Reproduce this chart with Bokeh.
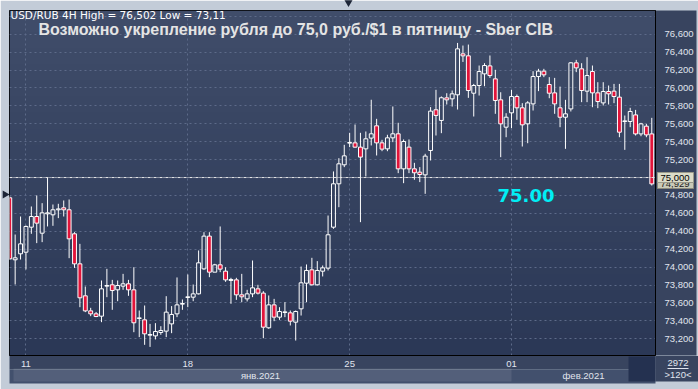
import numpy as np
from bokeh.plotting import figure
from bokeh.models import (ColumnDataSource, LinearAxis, FixedTicker, Range1d, Label,
                          Span, Grid, CustomJSTickFormatter)
from bokeh.core.properties import value
from bokeh.embed import file_html
from bokeh.resources import INLINE

# ---------------- data (USD/RUB, 4H candles) ----------------
opens = [74.774, 74.082, 74.149, 74.167, 74.446, 74.565, 74.379, 74.595, 74.584, 74.640,
         74.662, 74.640, 74.372, 74.037, 73.680, 73.512, 73.479, 73.453, 73.788, 73.803,
         73.747, 73.788, 73.814, 73.747, 73.427, 73.412, 73.241, 73.233, 73.271, 73.286,
         73.367, 73.479, 73.587, 73.661, 73.665, 73.702, 73.981, 74.346, 73.944, 74.026,
         73.955, 73.851, 73.858, 73.691, 73.646, 73.702, 73.758, 73.710, 73.323, 73.579,
         73.442, 73.494, 73.490, 73.386, 73.535, 73.821, 73.970, 73.803, 73.955, 73.989,
         74.446, 74.930, 75.142, 75.384, 75.387, 75.339, 75.320, 75.440, 75.577, 75.387,
         75.320, 75.443, 75.488, 75.097, 75.339, 75.097, 75.060, 75.030, 75.302, 75.756,
         75.637, 75.889, 75.878, 75.923, 76.380, 76.358, 75.941, 76.027, 76.157, 76.246,
         76.101, 75.867, 75.562, 75.722, 75.904, 75.778, 75.599, 75.822, 76.127, 76.187,
         76.038, 75.945, 75.778, 75.673, 75.766, 76.280, 76.213, 75.964, 76.183, 75.945,
         75.833, 75.960, 75.964, 75.897, 75.625, 75.625, 75.699, 75.487, 75.573, 75.487]
highs = [74.790, 74.364, 74.565, 74.465, 74.677, 74.800, 74.714, 74.997, 74.699, 74.707,
         74.744, 74.755, 74.390, 74.260, 73.784, 73.546, 73.500, 73.851, 73.981, 73.858,
         73.851, 73.925, 73.858, 73.999, 73.516, 73.572, 73.367, 73.375, 73.341, 73.676,
         73.565, 73.885, 73.639, 73.918, 73.806, 74.186, 74.390, 74.390, 74.037, 74.454,
         73.999, 73.881, 73.881, 73.925, 73.747, 74.074, 73.803, 73.732, 73.684, 73.646,
         73.553, 73.609, 73.516, 73.516, 74.007, 74.030, 74.104, 74.067, 74.018, 74.576,
         75.068, 75.216, 75.365, 75.499, 75.592, 75.499, 75.514, 75.868, 75.655, 75.421,
         75.477, 75.793, 75.611, 75.425, 75.425, 75.164, 75.116, 75.265, 75.786, 75.979,
         75.905, 75.941, 75.971, 76.502, 76.473, 76.484, 76.045, 76.250, 76.276, 76.362,
         76.202, 75.952, 75.718, 75.978, 75.926, 75.830, 75.852, 76.187, 76.213, 76.213,
         76.120, 76.112, 76.015, 75.867, 76.287, 76.313, 76.276, 76.343, 76.250, 76.064,
         76.064, 76.027, 76.045, 76.045, 75.692, 75.778, 75.755, 75.610, 75.599, 75.666]
lows = [74.080, 73.806, 74.085, 73.974, 74.372, 74.268, 74.279, 74.454, 74.461, 74.547,
        74.565, 74.100, 73.992, 73.553, 73.498, 73.453, 73.442, 73.386, 73.665, 73.524,
        73.620, 73.747, 73.680, 73.274, 73.219, 73.133, 73.110, 73.193, 73.245, 73.219,
        73.263, 73.442, 73.524, 73.553, 73.620, 73.695, 73.970, 73.888, 73.944, 73.944,
        73.836, 73.591, 73.635, 73.609, 73.617, 73.665, 73.695, 73.207, 73.312, 73.397,
        73.412, 73.442, 73.349, 73.181, 73.460, 73.609, 73.795, 73.795, 73.896, 73.963,
        74.428, 74.669, 75.116, 75.339, 75.332, 74.502, 75.012, 75.358, 75.246, 75.294,
        75.294, 75.395, 75.049, 74.937, 75.049, 74.975, 74.949, 74.818, 75.190, 75.469,
        75.495, 75.815, 75.792, 75.759, 76.290, 75.889, 75.681, 75.915, 76.019, 76.112,
        75.711, 75.227, 75.450, 75.551, 75.644, 75.346, 75.383, 75.748, 75.964, 76.120,
        75.885, 75.711, 75.562, 75.320, 75.737, 76.176, 75.841, 75.841, 75.785, 75.774,
        75.804, 75.815, 75.830, 75.450, 75.309, 75.562, 75.469, 75.461, 75.450, 74.911]
closes = [74.093, 74.104, 74.260, 74.454, 74.565, 74.491, 74.606, 74.606, 74.640, 74.650,
          74.640, 74.316, 74.037, 73.658, 73.512, 73.479, 73.449, 73.758, 73.795, 73.739,
          73.795, 73.814, 73.747, 73.379, 73.434, 73.256, 73.248, 73.282, 73.293, 73.498,
          73.472, 73.579, 73.594, 73.669, 73.702, 74.048, 74.346, 73.944, 74.026, 73.978,
          73.858, 73.862, 73.691, 73.669, 73.702, 73.769, 73.710, 73.330, 73.579, 73.442,
          73.505, 73.501, 73.397, 73.505, 73.825, 73.963, 73.803, 73.963, 73.992, 74.361,
          74.930, 75.153, 75.242, 75.391, 75.339, 75.228, 75.432, 75.488, 75.387, 75.317,
          75.443, 75.488, 75.097, 75.402, 75.097, 75.053, 75.034, 75.239, 75.741, 75.693,
          75.890, 75.867, 75.934, 76.436, 76.358, 75.971, 76.027, 76.183, 76.250, 76.138,
          75.860, 75.599, 75.673, 75.904, 75.778, 75.588, 75.833, 76.127, 76.187, 76.146,
          75.941, 75.822, 75.673, 75.711, 76.280, 76.224, 75.971, 76.138, 75.945, 75.848,
          75.960, 75.934, 75.904, 75.506, 75.632, 75.737, 75.487, 75.599, 75.476, 74.929]

week_start_idx = [3, 33, 63, 93]
week_labels = ["11", "18", "25", "01"]
month_start_idx = 93
month_labels = ["янв.2021", "фев.2021"]
y_ticks = [73.2, 73.4, 73.6, 73.8, 74.0, 74.2, 74.4, 74.6, 74.8, 75.0,
           75.2, 75.4, 75.6, 75.8, 76.0, 76.2, 76.4, 76.6]
y_tick_labels = ["73,200", "73,400", "73,600", "73,800", "74,000", "74,200",
                 "74,400", "74,600", "74,800", "75,000", "75,200", "75,400",
                 "75,600", "75,800", "76,000", "76,200", "76,400", "76,600"]
grid_levels = y_ticks + [76.8]
level_line = 75.0
level_text = "75.00"
level_box_text = "75,000"
header_text = "USD/RUB 4H High = 76,502 Low = 73,11"
title_text = "Возможно укрепление рубля до 75,0 руб./$1 в пятницу - Sber CIB"
bars_text = "2972"
scale_text = ">120<"

# ---------------- styling ----------------
BG_TOP = (64, 77, 106)
BG_BOT = (43, 56, 86)
BORDER = "#c3ccd8"
AXIS_BG = "#38445f"
LABEL_C = "#e0e4ee"
BEAR = "#e2143a"

n = len(opens)
idx = np.arange(n)
o = np.array(opens); c = np.array(closes); h = np.array(highs); l = np.array(lows)
top = np.maximum(o, c); bot = np.minimum(o, c)
bull = c >= o
last_box_text = f"{closes[-1]:.3f}".replace(".", ",")

W, H = 698, 389
FL, FT, FR, FB = 9, 10, 43, 34   # frame borders (px)
PXX = 5.395                      # px per bar
x0 = -0.05
x1 = x0 + (W - FL - FR) / PXX
y0, y1 = 73.014, 76.864
PXY = (H - FT - FB) / (y1 - y0)

def px2x(X):   # canvas px -> data x (layout helper for decorations)
    return x0 + (X - FL) / PXX

def px2y(Y):   # canvas px -> data y (layout helper for decorations)
    return y0 + ((H - FB) - Y) / PXY

p = figure(width=W, height=H, x_range=Range1d(x0, x1), y_range=Range1d(y0, y1),
           output_backend="svg", toolbar_location=None,
           x_axis_location=None, y_axis_location=None,
           min_border_left=FL, min_border_top=FT, min_border_right=FR, min_border_bottom=FB,
           border_fill_color=BORDER, background_fill_color="#36425f",
           outline_line_color="black", outline_line_width=1)
p.grid.visible = False

# vertical gradient background
NG = 64
t = np.linspace(0, 1, NG)[:, None]
rgb = (np.array(BG_BOT)[None, :] * (1 - t) + np.array(BG_TOP)[None, :] * t).astype(np.uint32)
img = (255 << 24) | (rgb[:, 2] << 16) | (rgb[:, 1] << 8) | rgb[:, 0]
img = img.reshape(NG, 1).astype(np.uint32)
p.image_rgba(image=[img], x=x0, y=y0, dw=x1 - x0, dh=y1 - y0, level="image")

# grids
p.add_layout(Grid(dimension=1, ticker=FixedTicker(ticks=grid_levels),
                  grid_line_color="#5d6a89", grid_line_dash="2 3", grid_line_width=1))
p.add_layout(Grid(dimension=0, ticker=FixedTicker(ticks=week_start_idx),
                  grid_line_color="#5d6a89", grid_line_dash="2 3", grid_line_width=1))

# level line
p.add_layout(Span(location=level_line, dimension="width", line_color="#e8e8e8",
                  line_dash="3 1 1 1", line_width=1))

# candles
src = ColumnDataSource(dict(x=idx, h=h, l=l, top=top, bot=bot))
p.segment(x0="x", y0="h", x1="x", y1="top", source=src, line_color="white", line_width=1)
p.segment(x0="x", y0="bot", x1="x", y1="l", source=src, line_color="white", line_width=1)
bull_src = ColumnDataSource(dict(x=idx[bull], top=top[bull], bot=bot[bull]))
bear_src = ColumnDataSource(dict(x=idx[~bull], top=top[~bull], bot=bot[~bull]))
p.vbar(x="x", top="top", bottom="bot", width=0.72, source=bull_src,
       fill_alpha=0, line_color="white", line_width=1)
p.vbar(x="x", top="top", bottom="bot", width=0.72, source=bear_src,
       fill_color=BEAR, line_color="white", line_width=1)

# right price axis
ry = LinearAxis(ticker=FixedTicker(ticks=y_ticks),
                major_label_overrides=dict(zip(y_ticks, y_tick_labels)),
                major_tick_line_color=None, minor_tick_line_color=None,
                major_label_standoff=3, axis_line_color="black",
                major_label_text_font="Liberation Sans", major_label_text_font_size="9.5px",
                major_label_text_color=LABEL_C)
ry.background_fill_color = AXIS_BG
p.add_layout(ry, "right")

# bottom day axis
bx = LinearAxis(ticker=FixedTicker(ticks=week_start_idx),
                major_label_overrides=dict(zip(week_start_idx, week_labels)),
                major_tick_line_color=None, minor_tick_line_color=None,
                major_tick_out=0, major_tick_in=0,
                major_label_standoff=5, axis_line_color="black",
                major_label_text_font="Liberation Sans", major_label_text_font_size="9.5px",
                major_label_text_color=LABEL_C)
bx.background_fill_color = AXIS_BG
p.add_layout(bx, "below")

mid_jan = (x0 + month_start_idx) / 2
mid_feb = (month_start_idx + x1) / 2
mx = LinearAxis(ticker=FixedTicker(ticks=[mid_jan, mid_feb]),
                formatter=CustomJSTickFormatter(args=dict(b=month_start_idx, a=month_labels[0], f=month_labels[1]),
                                                code="return tick < b ? a : f"),
                major_tick_line_color=None, minor_tick_line_color=None,
                major_tick_out=0, major_tick_in=0,
                major_label_standoff=0, axis_line_color=None,
                major_label_text_font="Liberation Sans", major_label_text_font_size="9.5px",
                major_label_text_color=LABEL_C)
mx.background_fill_color = "#42506d"
p.add_layout(mx, "below")

# texts inside the frame
def screen_label(X, Y, text, **kw):
    lab = Label(x=X - FL, y=(H - FB) - Y, x_units="screen", y_units="screen", text=text, **kw)
    p.add_layout(lab)
    return lab

screen_label(10, 14.5, header_text, text_font="DejaVu Sans", text_font_size="10.5px",
             text_color="white", text_baseline="middle")
screen_label(38, 29, title_text, text_font="Liberation Sans", text_font_size="16px",
             text_font_style="bold", text_color="#e4e4e4", text_baseline="middle")
screen_label(497, 195, level_text, text_font="DejaVu Sans", text_font_size="18px",
             text_font_style="bold", text_color="#00eef5", text_baseline="middle")

# ---- decorations outside the frame (overlay level) ----
p.quad(left=[px2x(13), px2x(628), px2x(655)], right=[month_start_idx, px2x(655), px2x(W)],
       bottom=[px2y(381), px2y(381), px2y(381)], top=[px2y(368), px2y(356), px2y(355.5)],
       fill_color=["white", "#243150", AXIS_BG], fill_alpha=[0.09, 1, 1], line_color=None,
       level="overlay")
# price boxes on the right scale (last close behind, level box in front)
p.quad(left=[px2x(657)], right=[px2x(693)], bottom=[px2y(188)], top=[px2y(178)],
       fill_color="#c9cab8", line_color="#8a8a7c", level="overlay")
p.text(x=[px2x(660)], y=[px2y(183)], text=[last_box_text], text_font=value("Liberation Sans"),
       text_font_size="9.5px", text_color="#222222", text_baseline="middle", level="overlay")
p.quad(left=[px2x(657)], right=[px2x(693)], bottom=[px2y(182)], top=[px2y(172)],
       fill_color="#dcdcc8", line_color="#9a9a8a", level="overlay")
p.text(x=[px2x(660)], y=[px2y(177)], text=[level_box_text], text_font=value("Liberation Sans"),
       text_font_size="9.5px", text_color="black", text_baseline="middle", level="overlay")
# corner info
p.text(x=[px2x(677.5), px2x(677.5)], y=[px2y(362), px2y(374)], text=[bars_text, scale_text],
       text_font=value("Liberation Sans"), text_font_size="9.5px", text_color=LABEL_C,
       text_baseline="middle", text_align="center", level="overlay")
p.segment(x0=[px2x(667)], x1=[px2x(688)], y0=[px2y(368)], y1=[px2y(368)],
          line_color=LABEL_C, line_width=1, level="overlay")
# scroll markers on the outer border (drawn as triangle markers)
p.scatter(x=[px2x(4.5), px2x(348), px2x(348)], y=[px2y(194), px2y(2), px2y(386.5)],
          marker="triangle", angle=[-np.pi / 2, np.pi, 0.0], size=8,
          fill_color="#1c2436", line_color=None, level="overlay")

open("out.html", "w").write(file_html(p, INLINE))
